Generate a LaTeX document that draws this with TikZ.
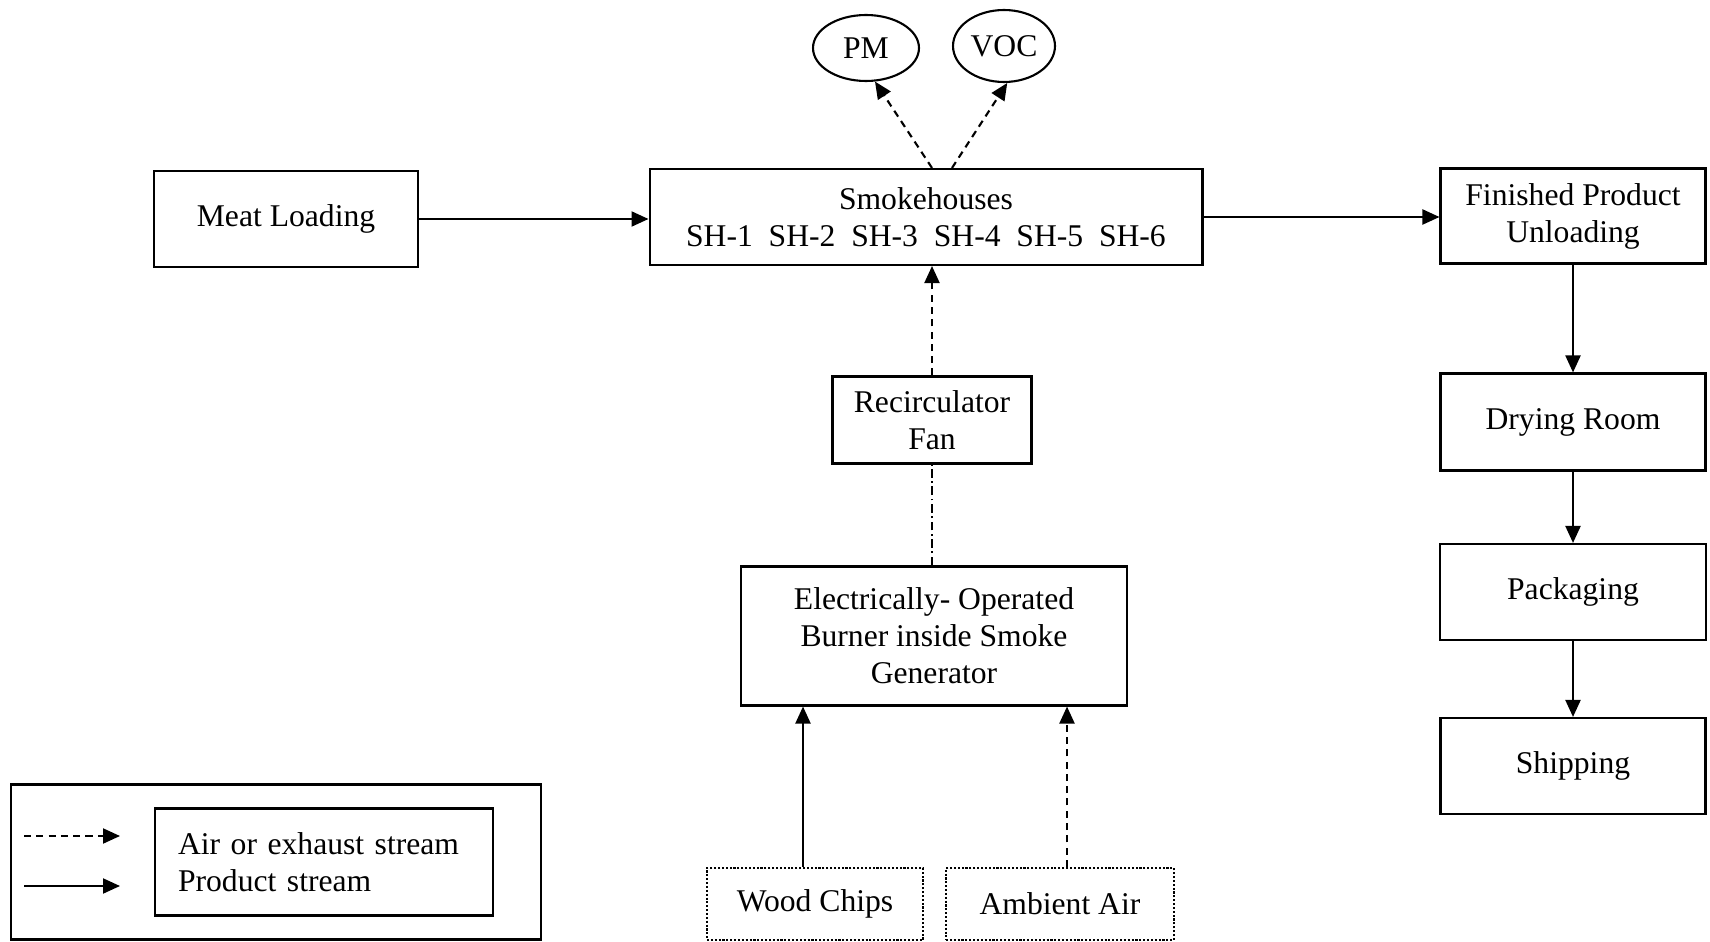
\documentclass[tikz,border=0pt]{standalone}
\usepackage{fontspec}
\setmainfont{Liberation Serif}
\usetikzlibrary{arrows.meta,positioning,shapes.geometric}

\begin{document}
\begin{tikzpicture}[x=0.02cm, y=-0.02cm, line width=1.2pt,
    font=\fontsize{18}{21}\selectfont,
    box/.style={rectangle, draw, align=center, inner sep=0pt},
    srcbox/.style={box, densely dotted},
    emis/.style={ellipse, draw, inner sep=0pt},
    prod/.style={-{Triangle[length=0.34cm,width=0.3cm]}},
    air/.style={prod, dash pattern=on 4pt off 3pt},
    fanline/.style={dash pattern=on 5pt off 2pt on 1pt off 2pt}]
  \useasboundingbox (0,0) rectangle (1710,942);

  % main process
  \node[box, minimum width=5.28cm, minimum height=1.92cm] (meat) at (286,219) {Meat Loading};
  \node[box, minimum width=11.06cm, minimum height=1.92cm] (smoke) at (926,217)
    {Smokehouses\\SH-1\enspace SH-2\enspace SH-3\enspace SH-4\enspace SH-5\enspace SH-6};
  \node[box, minimum width=5.3cm, minimum height=1.9cm] (unload) at (1573,216) {Finished Product\\Unloading};
  \node[box, minimum width=5.3cm, minimum height=1.94cm] (dry) at (1573,422) {Drying Room};
  \node[box, minimum width=5.32cm, minimum height=1.92cm] (pack) at (1573,592) {Packaging};
  \node[box, minimum width=5.3cm, minimum height=1.92cm] (ship) at (1573,766) {Shipping};

  % smoke generation
  \node[box, minimum width=3.98cm, minimum height=1.74cm] (fan) at (932,420) {Recirculator\\Fan};
  \node[box, minimum width=7.72cm, minimum height=2.78cm] (burner) at (934,636)
    {Electrically- Operated\\Burner inside Smoke\\Generator};
  \node[srcbox, minimum width=4.32cm, minimum height=1.44cm] (chips) at (815,904) {Wood Chips};
  \node[srcbox, minimum width=4.56cm, minimum height=1.44cm] (ambient) at (1060,904) {Ambient Air};

  % emissions
  \node[emis, minimum width=2.12cm, minimum height=1.32cm] (pm) at (866,48) {PM};
  \node[emis, minimum width=2.04cm, minimum height=1.44cm] (voc) at (1004,46) {VOC};

  % streams
  \draw[prod] (meat.east) -- (meat.east -| smoke.west);
  \draw[prod] (smoke.east) -- (smoke.east -| unload.west);
  \draw[prod] (unload) -- (dry);
  \draw[prod] (dry) -- (pack);
  \draw[prod] (pack) -- (ship);
  \draw[air] (fan.north) -- (fan.north |- smoke.south);
  \draw[fanline] (fan.south |- burner.north) -- (fan.south);
  \draw[prod] ([xshift=-0.24cm]chips.north) -- ([xshift=-0.24cm]chips.north |- burner.south);
  \draw[air] ([xshift=0.14cm]ambient.north) -- ([xshift=0.14cm]ambient.north |- burner.south);
  \draw[air] ([xshift=0.12cm]smoke.north) -- (pm.-75);
  \draw[air] ([xshift=0.52cm]smoke.north) -- (voc.-85);

  % legend
  \node[draw, minimum width=10.6cm, minimum height=3.1cm, inner sep=0pt] (legend) at (276,862) {};
  \node[draw, minimum width=6.76cm, minimum height=2.14cm, inner xsep=0.46cm, inner ysep=0pt,
        text width=5.84cm, align=left] (key) at (324,862) {Air or exhaust stream\\Product stream};
  \coordinate (airA) at (24,836);
  \coordinate (airB) at (120,836);
  \coordinate (prodA) at (24,886);
  \coordinate (prodB) at (120,886);
  \draw[air] (airA) -- (airB);
  \draw[prod] (prodA) -- (prodB);
\end{tikzpicture}
\end{document}
